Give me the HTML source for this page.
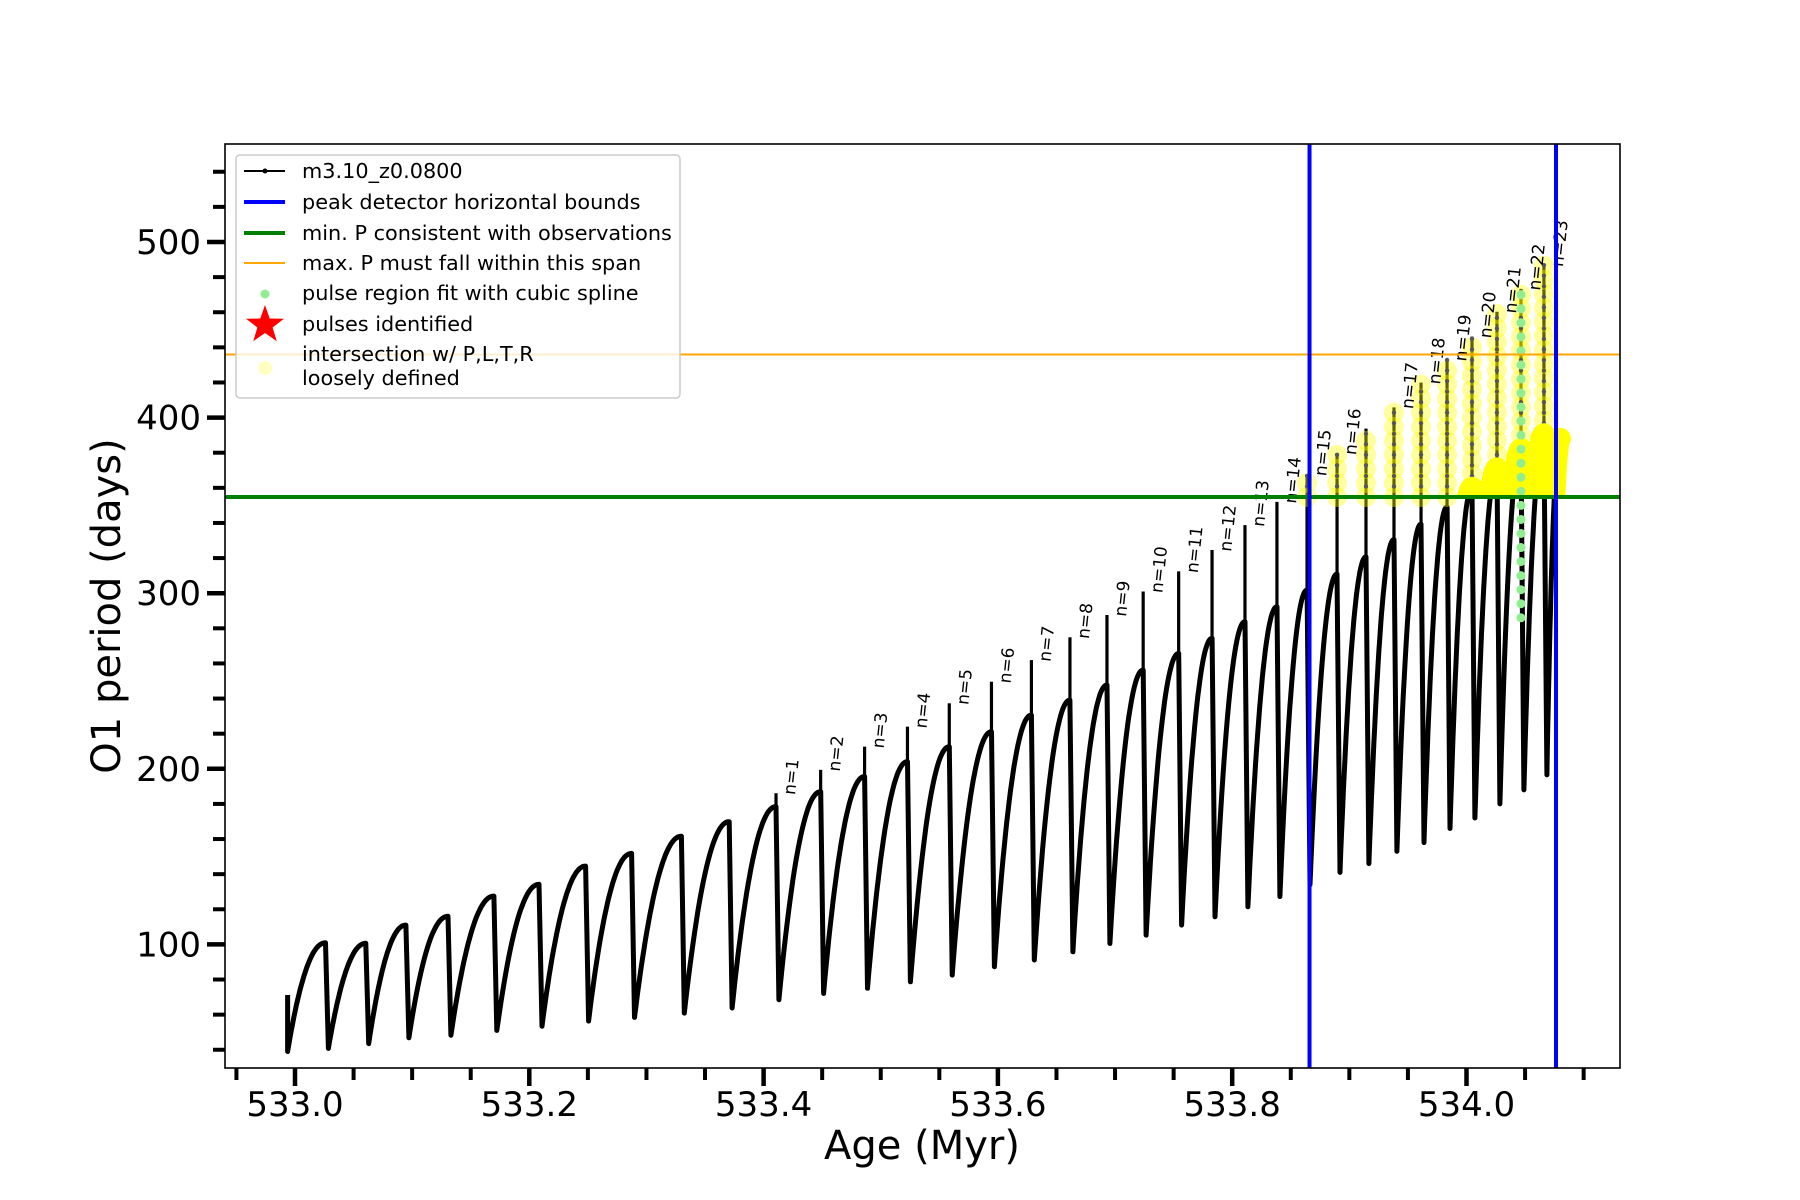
<!DOCTYPE html>
<html><head><meta charset="utf-8"><style>
html,body{margin:0;padding:0;background:#fff}
svg{display:block}
text{font-family:"DejaVu Sans","Liberation Sans",sans-serif}
</style></head><body>
<svg id="chart" width="1800" height="1200" viewBox="0 0 1800 1200" xmlns="http://www.w3.org/2000/svg">
<defs><clipPath id="plotclip"><rect x="225" y="144" width="1395" height="924"/></clipPath>
<clipPath id="aboveGreen"><rect x="225" y="144" width="1395" height="353"/></clipPath></defs>
<rect x="0" y="0" width="1800" height="1200" fill="#fff"/>
<g id="plot" clip-path="url(#plotclip)"></g>
<g id="axes"></g>
<g id="legend"></g>
</svg>
<script>
// ---- data ----
const startAge = 532.9937;
const startTop = 71.2;
const startMin = 39;
const pulseAges = [533.0260,533.0604,533.0947,533.1306,533.1698,533.2083,533.2481,533.2873,533.3298,533.3706,
  533.4106,533.4487,533.4862,533.5228,533.5585,533.5945,533.6286,533.6615,533.6931,533.7240,
  533.7543,533.7828,533.8109,533.8382,533.8639,533.8895,533.9142,533.9381,533.9612,533.9834,
  534.0047,534.0260,534.0465,534.0661];
const plateauP = [100.9,100.6,111,116,127.5,134.2,144.6,151.8,161.6,169.9,
  178.5,187,195.6,204.1,212.6,221.1,230.6,239.1,247.7,256.2,
  265.7,274.3,283.8,292.3,301.8,310.9,320.7,330.5,339.3,349.1,
  360,371,382,390.5];
const spikeP = [null,null,null,null,null,null,null,null,null,null,
  186.1,199.4,212.6,224,237.3,249.6,261.9,274.9,287.6,301,
  312.4,324.6,338.8,352,367.6,379.6,393.7,405.8,419.9,433,
  446.1,460.3,473.3,486.8];
const minP = [40.8,43.5,46.8,48.3,51,53.4,56.3,58.4,60.9,63.8,
  68.5,72.1,75,78.7,82.5,87.3,91.1,95.8,100.5,105.3,
  111,115.7,121.4,127.2,134,141,146,153,158,166,
  172,180,188,196.5];
const pulseLabels = [null,null,null,null,null,null,null,null,null,null,
  "n=1","n=2","n=3","n=4","n=5","n=6","n=7","n=8","n=9","n=10",
  "n=11","n=12","n=13","n=14","n=15","n=16",null,"n=17","n=18","n=19",
  "n=20","n=21","n=22","n=23"];
const endAge = 534.0798;
const endP = 388;
const boundAges = [533.866, 534.0764];
const minPeriodObs = 354.8;
const maxPeriodSpan = 435.9;
const splinePulseIndex = 32;
const splineLowP = 286;
const xMajorTicks = [533.0,533.2,533.4,533.6,533.8,534.0];
const xTickLabels = ["533.0","533.2","533.4","533.6","533.8","534.0"];
const yMajorTicks = [100,200,300,400,500];
const yTickLabels = ["100","200","300","400","500"];

// ---- scales ----
const X0=225,X1=1620,Y0=144,Y1=1068;
function xs(a){return 295+(a-533)*1171.5;}
function ys(p){return 242+(500-p)*1.756;}
const NS="http://www.w3.org/2000/svg";
function mk(tag,attrs,parent){const e=document.createElementNS(NS,tag);for(const k in attrs)e.setAttribute(k,attrs[k]);parent.appendChild(e);return e;}
const plot=document.getElementById('plot'),axes=document.getElementById('axes'),legend=document.getElementById('legend');

// ---- build curve path ----
const dt=0.0025;
let d=`M${xs(startAge)},${ys(startTop)} L${xs(startAge)},${ys(startMin)}`;
function rise(a0,p0,a1,p1){let s='';const N=30;for(let k=1;k<=N;k++){const u=k/N;const f=1-Math.pow(1-u,2.1);s+=` L${xs(a0+(a1-a0)*u).toFixed(1)},${ys(p0+(p1-p0)*f).toFixed(1)}`;}return s;}
d+=rise(startAge,startMin,pulseAges[0],plateauP[0]);
for(let i=0;i<pulseAges.length;i++){
  const a=pulseAges[i];
  d+=` L${xs(a+dt).toFixed(1)},${ys(minP[i]).toFixed(1)}`;
  const na=i+1<pulseAges.length?pulseAges[i+1]:endAge;
  const np=i+1<plateauP.length?plateauP[i+1]:endP;
  d+=rise(a+dt,minP[i],na,np);
}
const cur=mk('path',{d:d,fill:'none',stroke:'#000','stroke-width':5,'stroke-linejoin':'round'},plot);



// spikes
for(let i=0;i<pulseAges.length;i++){
  if(spikeP[i]==null)continue;
  const x=xs(pulseAges[i]);
  const sp=mk('line',{x1:x,y1:ys(plateauP[i]),x2:x,y2:ys(spikeP[i]),stroke:'#000','stroke-width':3.2},plot);
  
  
  if(spikeP[i]>minPeriodObs){
    for(let p=Math.max(minPeriodObs,plateauP[i]);p<=spikeP[i];p+=8){
      const c=mk('circle',{cx:x,cy:ys(p),r:10,fill:'#ffff00','fill-opacity':0.38},plot);
      
      
    }
    for(let p=minPeriodObs;p<=spikeP[i];p+=6){
      const dd=mk('circle',{cx:x,cy:ys(p),r:2.2,fill:'#555'},plot);
      
      
    }
  }
}
// yellow highlight over curve above green line
const yl2=mk('path',{d:d,fill:'none',stroke:'#ffff00','stroke-width':22,'stroke-linejoin':'round','stroke-linecap':'round','clip-path':'url(#aboveGreen)'},plot);


// spline points
{const i=splinePulseIndex;const x=xs(pulseAges[i]);
 for(let p=splineLowP;p<=spikeP[i];p+=8){
  const g=mk('circle',{cx:x,cy:ys(p),r:4.5,fill:'#90ee90'},plot);
  
  
 }}
// labels
for(let i=0;i<pulseAges.length;i++){
  if(!pulseLabels[i])continue;
  const x=xs(pulseAges[i])+19,y=ys(spikeP[i])+2;
  const t=mk('text',{x:0,y:0,transform:`translate(${x.toFixed(1)},${y.toFixed(1)}) rotate(-84)`,'font-size':17,fill:'#000'},plot);
  t.textContent=pulseLabels[i];
  
  
}
// reference lines
const gl=mk('line',{x1:X0,x2:X1,y1:ys(minPeriodObs),y2:ys(minPeriodObs),stroke:'#008000','stroke-width':4},plot);


const ol=mk('line',{x1:X0,x2:X1,y1:ys(maxPeriodSpan),y2:ys(maxPeriodSpan),stroke:'#ffa500','stroke-width':2},plot);


for(const a of boundAges){
  const bl=mk('line',{x1:xs(a),x2:xs(a),y1:Y0,y2:Y1,stroke:'#0000ff','stroke-width':4},plot);
  
  
}

// ---- axes ----
const frame=mk('rect',{x:X0,y:Y0,width:X1-X0,height:Y1-Y0,fill:'none',stroke:'#000','stroke-width':1.6},axes);


for(let k=0;k<=23;k++){const a=532.95+k*0.05;const x=xs(a);if(x<X0||x>X1)continue;
  const mj=xMajorTicks.some(v=>Math.abs(v-a)<1e-6);
  const tk=mk('line',{x1:x,x2:x,y1:Y1,y2:Y1+(mj?18:12),stroke:'#000','stroke-width':mj?4.5:4},axes);
  
  }
xMajorTicks.forEach((v,i)=>{const t=mk('text',{x:xs(v),y:1116,'text-anchor':'middle','font-size':34},axes);t.textContent=xTickLabels[i];
  
  });
for(let p=40;p<=540;p+=20){const y=ys(p);if(y<Y0||y>Y1)continue;
  const mj=yMajorTicks.includes(p);
  const tk=mk('line',{x1:X0-(mj?18:12),x2:X0,y1:y,y2:y,stroke:'#000','stroke-width':mj?4.5:4},axes);
  
  }
yMajorTicks.forEach((v,i)=>{const t=mk('text',{x:201,y:ys(v)+12,'text-anchor':'end','font-size':34},axes);t.textContent=yTickLabels[i];
  
  });
const xl=mk('text',{x:922,y:1159,'text-anchor':'middle','font-size':40},axes);xl.textContent='Age (Myr)';


const ylb=mk('text',{x:0,y:0,transform:'translate(120,606) rotate(-90)','text-anchor':'middle','font-size':40},axes);ylb.textContent='O1 period (days)';



// ---- legend ----
const lb=mk('rect',{x:236,y:155,width:444,height:243,rx:4,fill:'#fff','fill-opacity':0.8,stroke:'#ccc','stroke-width':1.5},legend);


const rows=[171,202,233,263,293,324];
const labels=["m3.10_z0.0800","peak detector horizontal bounds","min. P consistent with observations","max. P must fall within this span","pulse region fit with cubic spline","pulses identified"];
labels.forEach((s,i)=>{const t=mk('text',{x:302,y:rows[i]+7,'font-size':20.8},legend);t.textContent=s;
  
  });
mk('line',{x1:244,x2:285,y1:171,y2:171,stroke:'#000','stroke-width':2},legend);
mk('circle',{cx:265,cy:171,r:2.5,fill:'#000'},legend);
mk('line',{x1:244,x2:285,y1:202,y2:202,stroke:'#0000ff','stroke-width':4},legend);
mk('line',{x1:244,x2:285,y1:233,y2:233,stroke:'#008000','stroke-width':4},legend);
mk('line',{x1:244,x2:285,y1:263,y2:263,stroke:'#ffa500','stroke-width':2},legend);
mk('circle',{cx:265,cy:294,r:4.5,fill:'#90ee90'},legend);
{const cx=265,cy=325,R=20,r=8;let pts=[];for(let k=0;k<10;k++){const ang=-Math.PI/2+k*Math.PI/5;const rr=k%2?r:R;pts.push((cx+rr*Math.cos(ang)).toFixed(1)+','+(cy+rr*Math.sin(ang)).toFixed(1));}
 const st=mk('polygon',{points:pts.join(' '),fill:'#ff0000'},legend);
 
 }
mk('circle',{cx:265,cy:368,r:7,fill:'#ffff00','fill-opacity':0.25},legend);
const t1=mk('text',{x:302,y:361,'font-size':20.8},legend);t1.textContent='intersection w/ P,L,T,R';


const t2=mk('text',{x:302,y:385,'font-size':20.8},legend);t2.textContent='loosely defined';


</script>
</body></html>
